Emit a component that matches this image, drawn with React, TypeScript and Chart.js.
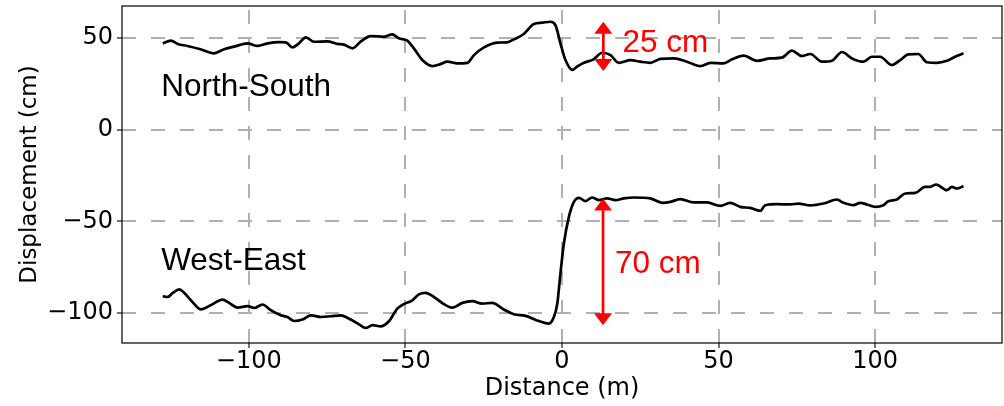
import React, { useEffect, useRef } from "react";
import { Chart, registerables } from "chart.js";

Chart.register(...registerables);

// North-South displacement profile (cm) vs distance (m)
const nsX = [
  -127.5, -124.9, -122.7, -119.6, -115.4, -111.1, -107.9, -104.7, -100.4, -97.2,
  -94.0, -90.3, -88.2, -86.1, -84.0, -81.8, -79.2, -74.9, -71.7, -69.6,
  -66.9, -64.3, -61.1, -56.8, -54.2, -52.1, -49.4, -47.3, -44.6, -41.4,
  -38.8, -36.6, -33.4, -30.2, -28.1, -24.9, -20.7, -17.5, -15.4, -12.2,
  -9.0, -6.3, -3.7, -2.1, -0.5, 1.1, 3.3, 4.8, 7.0, 10.1,
  12.8, 15.5, 18.1, 21.9, 25.0, 28.2, 31.4, 35.7, 39.9, 44.2,
  47.4, 51.6, 54.3, 58.0, 62.3, 66.5, 70.2, 73.4, 76.6, 79.3,
  83.0, 86.2, 89.4, 92.6, 96.3, 98.9, 101.6, 105.3, 108.0, 110.6,
  113.8, 116.5, 119.7, 122.9, 125.5, 128.2,
];
const nsY = [
  47.1, 48.6, 46.8, 45.7, 43.9, 41.7, 43.9, 45.3, 47.1, 45.7,
  47.1, 47.8, 47.7, 44.9, 47.1, 50.4, 48.0, 48.2, 46.8, 46.4,
  44.4, 48.0, 51.1, 50.7, 52.0, 49.9, 48.6, 44.4, 38.0, 34.7,
  35.8, 37.1, 36.2, 36.5, 40.7, 44.9, 47.5, 47.7, 49.3, 52.2,
  57.7, 58.4, 58.9, 57.1, 47.1, 38.0, 32.6, 34.4, 36.5, 38.4,
  42.0, 40.7, 36.5, 38.0, 37.1, 36.5, 38.6, 38.9, 37.1, 34.7,
  36.5, 36.2, 38.4, 40.4, 37.6, 38.9, 39.3, 43.1, 40.2, 41.3,
  37.1, 37.6, 42.4, 38.9, 37.1, 39.8, 39.8, 35.3, 38.0, 41.1,
  41.3, 36.8, 36.5, 37.6, 39.8, 41.7,
];

// West-East displacement profile (cm) vs distance (m)
const weX = [
  -127.5, -125.9, -124.3, -122.2, -120.6, -118.0, -115.3, -112.2, -108.4, -106.3,
  -103.6, -100.4, -98.3, -95.6, -93.0, -89.8, -87.7, -85.5, -82.9, -80.2,
  -77.0, -73.8, -70.6, -67.5, -64.8, -62.7, -60.5, -57.9, -55.2, -52.6,
  -50.5, -47.8, -45.7, -43.5, -40.9, -37.7, -35.0, -31.8, -28.6, -25.5,
  -22.3, -18.6, -15.4, -11.6, -7.4, -4.2, -2.6, -1.5, -0.5, 0.6,
  2.2, 3.8, 5.4, 7.5, 9.6, 11.7, 14.4, 17.1, 19.7, 22.9,
  28.2, 32.0, 34.6, 37.8, 42.0, 46.3, 50.6, 53.7, 56.9, 60.1,
  63.3, 64.9, 68.6, 72.9, 75.5, 79.3, 83.5, 87.8, 89.9, 93.1,
  95.2, 97.4, 100.0, 102.6, 104.2, 106.9, 109.6, 112.8, 115.9, 117.5,
  119.5, 122.9, 124.5, 126.1, 128.2,
];
const weY = [
  -90.9, -91.3, -89.1, -87.1, -89.1, -94.0, -98.1, -95.8, -92.7, -94.5,
  -97.1, -96.3, -97.3, -95.4, -98.5, -101.3, -102.2, -104.4, -103.6, -101.3,
  -102.2, -101.8, -101.3, -103.6, -106.2, -108.2, -106.7, -107.3, -104.4, -97.6,
  -95.2, -93.1, -89.9, -89.1, -91.3, -95.2, -97.1, -94.5, -93.6, -94.9,
  -94.5, -98.1, -100.7, -101.6, -104.4, -105.8, -102.2, -94.9, -78.5, -62.1,
  -47.6, -39.4, -37.2, -39.0, -37.0, -38.4, -37.5, -38.4, -37.5, -37.0,
  -37.5, -39.9, -39.4, -37.9, -39.7, -39.7, -41.6, -39.9, -42.1, -42.7,
  -44.3, -41.2, -40.6, -40.8, -40.3, -41.3, -40.3, -38.1, -39.9, -41.2,
  -39.9, -40.8, -42.1, -41.2, -39.0, -38.1, -34.8, -34.5, -31.2, -31.2,
  -29.9, -33.0, -31.2, -32.1, -30.8,
];

const xTicks = [-100, -50, 0, 50, 100];
const yTicks = [-100, -50, 0, 50];
const xLimits = [-140.5, 140.5];
const yLimits = [-116.4, 67.5];

const textLabels = [
  { text: "North-South", x: -128, y: 18.5, color: "#000000" },
  { text: "West-East", x: -128, y: -76.4, color: "#000000" },
  { text: "25 cm", x: 19.3, y: 42.5, color: "#ff0000" },
  { text: "70 cm", x: 16.9, y: -78.2, color: "#ff0000" },
];
const arrowSpecs = [
  { x: 13.2, from: 32.0, to: 58.9 },
  { x: 13.1, from: -106.7, to: -37.5 },
];

const fmt = (v: number) => (v < 0 ? "\u2212" + Math.abs(v) : String(v));

const annotationPlugin = {
  id: "annotations",
  afterDatasetsDraw(chart: any) {
    const ctx = chart.ctx;
    const xs = chart.scales.x;
    const ys = chart.scales.y;
    ctx.save();
    for (const a of arrowSpecs) {
      const px = xs.getPixelForValue(a.x);
      const p1 = ys.getPixelForValue(a.from);
      const p2 = ys.getPixelForValue(a.to);
      const top = Math.min(p1, p2);
      const bot = Math.max(p1, p2);
      const hl = 12;
      const hw = 9;
      ctx.strokeStyle = "#ff0000";
      ctx.fillStyle = "#ff0000";
      ctx.lineWidth = 2.7;
      ctx.beginPath();
      ctx.moveTo(px, top + hl - 1);
      ctx.lineTo(px, bot - hl + 1);
      ctx.stroke();
      ctx.beginPath();
      ctx.moveTo(px, top);
      ctx.lineTo(px - hw, top + hl);
      ctx.lineTo(px + hw, top + hl);
      ctx.closePath();
      ctx.fill();
      ctx.beginPath();
      ctx.moveTo(px, bot);
      ctx.lineTo(px - hw, bot - hl);
      ctx.lineTo(px + hw, bot - hl);
      ctx.closePath();
      ctx.fill();
    }
    ctx.font = '31.5px "Liberation Sans", Arial, sans-serif';
    ctx.textAlign = "left";
    ctx.textBaseline = "alphabetic";
    for (const t of textLabels) {
      ctx.fillStyle = t.color;
      ctx.fillText(t.text, xs.getPixelForValue(t.x), ys.getPixelForValue(t.y));
    }
    ctx.restore();
  },
  afterDraw(chart: any) {
    const { left, top, right, bottom } = chart.chartArea;
    const ctx = chart.ctx;
    ctx.save();
    ctx.strokeStyle = "#000000";
    ctx.lineWidth = 1.2;
    ctx.strokeRect(left, top, right - left, bottom - top);
    ctx.restore();
  },
};

export default function App() {
  const ref = useRef<HTMLCanvasElement | null>(null);

  useEffect(() => {
    if (!ref.current) return;
    const tickFont = { family: '"DejaVu Sans", sans-serif', size: 24, lineHeight: 1.0 };
    const xTitleFont = { family: '"DejaVu Sans", sans-serif', size: 24, lineHeight: 1.2 };
    const yTitleFont = { family: '"DejaVu Sans", sans-serif', size: 23, lineHeight: 1.2 };
    const chart = new Chart(ref.current, {
      type: "line",
      data: {
        datasets: [
          {
            label: "North-South",
            data: nsX.map((x, i) => ({ x, y: nsY[i] })),
            borderColor: "#000000",
            borderWidth: 2.7,
            pointRadius: 0,
            fill: false,
            cubicInterpolationMode: "monotone",
          },
          {
            label: "West-East",
            data: weX.map((x, i) => ({ x, y: weY[i] })),
            borderColor: "#000000",
            borderWidth: 2.7,
            pointRadius: 0,
            fill: false,
            cubicInterpolationMode: "monotone",
          },
        ],
      },
      options: {
        animation: false,
        responsive: false,
        devicePixelRatio: 1,
        layout: { padding: { top: 6, right: 2, left: 0, bottom: 0 } },
        plugins: { legend: { display: false }, tooltip: { enabled: false } },
        scales: {
          x: {
            type: "linear",
            min: xLimits[0],
            max: xLimits[1],
            afterBuildTicks: (s: any) => {
              s.ticks = xTicks.map((v) => ({ value: v }));
            },
            afterFit: (s: any) => {
              s.height = 63;
              s.paddingLeft = 0;
              s.paddingRight = 0;
            },
            border: {
              display: false,
              dash: [14, 15],
              dashOffset: (c: any) => {
                const a = c.chart.chartArea;
                if (!a) return 0;
                const L = a.bottom - a.top;
                return (((14 - L) % 29) + 29) % 29;
              },
            },
            grid: {
              color: "#b0b0b0",
              lineWidth: 2,
              drawTicks: true,
              tickLength: 5,
              tickColor: "#000000",
              tickWidth: 1.1,
              tickBorderDash: [],
            },
            ticks: {
              font: tickFont,
              color: "#000000",
              padding: 2,
              maxRotation: 0,
              callback: (v: any) => fmt(Number(v)),
            },
            title: {
              display: true,
              text: "Distance (m)",
              font: xTitleFont,
              color: "#000000",
              padding: { top: 0, bottom: 3 },
            },
          },
          y: {
            type: "linear",
            min: yLimits[0],
            max: yLimits[1],
            afterBuildTicks: (s: any) => {
              s.ticks = yTicks.map((v) => ({ value: v }));
            },
            afterFit: (s: any) => {
              s.width = 122;
              s.paddingTop = 0;
              s.paddingBottom = 0;
            },
            border: { display: false, dash: [14, 15], dashOffset: 0 },
            grid: {
              color: "#b0b0b0",
              lineWidth: 2,
              drawTicks: true,
              tickLength: 5,
              tickColor: "#000000",
              tickWidth: 1.1,
              tickBorderDash: [],
            },
            ticks: {
              font: tickFont,
              color: "#000000",
              padding: 4,
              callback: (v: any) => fmt(Number(v)),
            },
            title: {
              display: true,
              text: "Displacement (cm)",
              font: yTitleFont,
              color: "#000000",
              padding: { top: 16, bottom: 0 },
            },
          },
        },
      },
      plugins: [annotationPlugin],
    } as any);
    return () => chart.destroy();
  }, []);

  return (
    <div style={{ position: "fixed", left: 0, top: 0, width: 1004, height: 406, background: "#ffffff" }}>
      <canvas ref={ref} width={1004} height={406} style={{ width: 1004, height: 406, display: "block" }} />
    </div>
  );
}
